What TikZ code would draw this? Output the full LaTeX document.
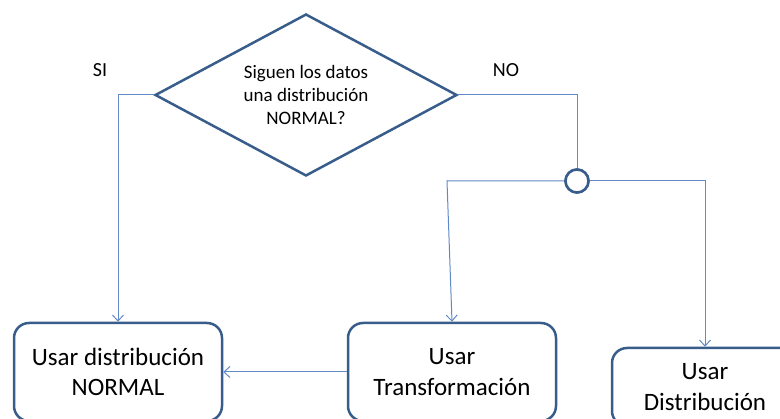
\documentclass[tikz,border=0pt]{standalone}
\usepackage{fontspec}
\setmainfont{Carlito}
\usetikzlibrary{shapes.geometric,arrows.meta}
\definecolor{boxblue}{RGB}{56,93,138}
\definecolor{linkblue}{RGB}{96,138,198}
\tikzset{
  flowbox/.style={draw=boxblue, line width=2.5pt, rounded corners=15pt, fill=white,
    align=center, inner sep=0pt, font=\fontsize{25}{30.5}\selectfont},
  decision/.style={diamond, draw=boxblue, line width=2.5pt, fill=white,
    align=center, inner sep=0pt, shape aspect=1.864, minimum width=302pt, minimum height=162pt,
    font=\fontsize{19}{23}\selectfont},
  junction/.style={circle, draw=boxblue, line width=2.5pt, fill=white, minimum size=23pt, inner sep=0pt},
  link/.style={draw=linkblue, line width=1pt},
  linkarrow/.style={link, -{Straight Barb[length=6pt,width=11pt]}},
  tag/.style={font=\fontsize{20}{24}\selectfont, inner sep=0pt}
}
\begin{document}
\begin{tikzpicture}[x=1pt,y=-1pt]
\useasboundingbox (0,0) rectangle (780,419);
\clip (0,0) rectangle (780,419);
\node[decision] (d) at (306,95) {Siguen los datos\\una distribución\\NORMAL?};
\node[junction] (j) at (577,181) {};
\node[flowbox, minimum width=208pt, minimum height=98pt] (b1) at (118,372) {Usar distribución\\NORMAL};
\node[flowbox, minimum width=208pt, minimum height=98pt] (b2) at (452,372) {Usar\\Transformación};
\node[flowbox, minimum width=186pt, minimum height=78pt] (b3) at (705,387) {Usar\\Distribución};
\node[tag] (si) at (100,70) {SI};
\node[tag] (no) at (506,70) {NO};
\coordinate (jl) at (447,181);
\coordinate (jr) at (705,181);
\draw[linkarrow] (d.west) -| (b1.north);
\draw[link] (d.east) -| (j.north);
\draw[linkarrow] (j.west) -- (jl) -- (b2.north);
\draw[linkarrow] (j.east) -- (jr) -- (b3.north);
\draw[linkarrow] (b2.west) -- (b1.east);
\node[junction] at (j) {};
\end{tikzpicture}
\end{document}
